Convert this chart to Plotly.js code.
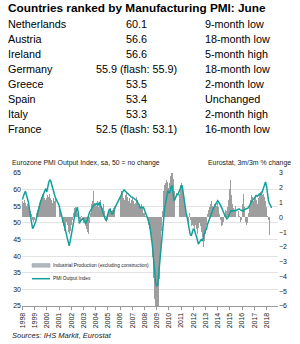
<!DOCTYPE html>
<html>
<head>
<meta charset="utf-8">
<script src="https://cdn.plot.ly/plotly-3.0.1.min.js"></script>
<style>
html,body{margin:0;padding:0;background:#fff;}
#chart{width:300px;height:344px;}
</style>
</head>
<body>
<div id="chart"></div>
<script>
// ---- Table data ----
const countries = ['Netherlands','Austria','Ireland','Germany','Greece','Spain','Italy','France'];
const pmiJune = ['60.1','56.6','56.6','55.9 (flash: 55.9)','53.5','53.4','53.3','52.5 (flash: 53.1)'];
const notes = ['9-month low','18-month low','5-month high','18-month low','2-month low','Unchanged','2-month high','16-month low'];

// ---- Chart data (monthly, starting Jan 1998) ----
const startYear = 1998;
// Eurozone PMI Output Index (left axis), Jan 1998 - Jun 2018
const pmiOutput = [
  57.0,58.2,58.8,59.5,58.5,57.5,56.2,54.0,51.5,49.5,48.3,48.8, // 1998
  49.5,50.3,51.5,53.0,54.2,55.0,56.5,57.3,58.0,58.8,59.5,60.3, // 1999
  59.3,61.0,62.2,63.0,62.5,61.3,60.0,59.2,58.0,57.2,56.5,55.8, // 2000
  55.3,54.0,52.6,51.3,50.5,49.5,48.2,47.5,46.0,44.0,43.1,44.5, // 2001
  46.5,48.5,50.5,51.7,53.0,53.8,54.7,53.0,49.8,50.5,51.0,51.3, // 2002
  51.2,50.8,49.8,50.2,51.0,52.3,53.2,53.7,54.3,54.7,55.3,55.5, // 2003
  55.6,55.8,55.2,56.0,56.2,55.0,54.5,53.2,52.5,51.5,50.7,51.5, // 2004
  53.0,53.8,54.2,53.5,52.7,52.8,53.8,54.5,55.2,55.8,56.5,57.2, // 2005
  57.7,58.3,58.8,59.5,59.9,59.6,59.0,58.7,58.5,58.3,58.0,57.8, // 2006
  57.7,57.5,57.4,57.2,56.8,56.3,55.7,55.0,54.5,54.8,54.6,54.7, // 2007
  54.0,53.2,52.5,51.5,50.5,49.6,47.5,45.5,42.6,39.0,35.0,32.0, // 2008
  31.0,31.5,34.5,38.5,42.0,45.5,48.6,51.5,54.7,56.5,58.0,59.7, // 2009
  59.0,59.2,60.5,61.3,59.5,56.7,57.0,57.8,58.7,58.5,59.5,60.5, // 2010
  61.0,61.3,59.0,56.7,54.5,53.0,51.7,50.0,48.0,46.5,46.1,47.0, // 2011
  48.1,48.0,47.2,46.0,45.0,43.6,44.0,44.5,45.1,44.5,46.0,47.0, // 2012
  47.8,48.1,49.5,50.5,51.2,52.0,53.0,53.7,54.5,55.0,55.8,56.3, // 2013
  56.7,56.2,55.8,55.2,54.5,53.5,52.7,52.3,51.8,51.2,51.5,52.3, // 2014
  53.0,53.7,53.5,53.7,53.6,53.8,53.7,53.9,54.0,54.2,54.0,53.8, // 2015
  53.7,53.5,53.9,54.0,54.2,54.3,54.5,55.0,55.8,56.3,56.7,57.0, // 2016
  57.3,57.8,58.2,58.0,58.3,58.7,58.5,58.7,59.5,60.5,61.5,62.3, // 2017
  61.0,58.5,56.7,55.7,55.3,54.5                                // 2018
];
// Eurostat industrial production (excl. construction), 3m/3m % change (right axis), Jan 1998 - Apr 2018
const industrialProduction = [
  1.1,1.0,1.2,1.0,0.8,0.9,0.7,0.5,0.4,0.2,-0.2,-0.3,      // 1998
  -0.2,0.0,0.3,0.5,0.8,1.0,1.2,1.4,1.6,1.5,1.3,1.2,       // 1999
  1.3,1.5,1.4,1.6,1.3,1.2,1.0,1.3,1.1,1.4,1.0,0.8,        // 2000
  0.6,0.3,-0.2,-0.4,-0.6,-0.9,-0.7,-0.3,-0.5,-1.0,-1.1,-0.9, // 2001
  -0.5,-0.2,0.3,0.6,0.7,0.5,0.3,0.2,-0.1,-0.3,0.1,-0.2,   // 2002
  -0.4,-0.3,-0.6,-0.8,-1.0,-1.1,-0.4,0.3,0.9,1.1,1.8,1.0, // 2003
  0.9,0.8,1.1,0.7,1.0,1.2,0.8,0.6,0.9,0.4,0.1,-0.3,       // 2004
  -0.2,0.3,0.5,0.6,0.4,0.5,0.6,0.8,1.1,1.4,1.7,1.2,       // 2005
  1.4,1.8,1.6,1.3,1.2,1.5,1.7,1.4,1.1,1.3,1.0,1.2,        // 2006
  1.3,1.1,0.9,1.0,1.4,1.2,0.8,0.9,0.7,0.9,0.6,0.3,        // 2007
  0.3,0.1,0.2,-0.2,-0.5,-0.8,-1.1,-1.5,-2.7,-4.1,-5.5,-7.5, // 2008
  -9.0,-9.5,-8.0,-4.2,-2.5,-0.9,0.4,1.8,2.2,2.3,2.5,2.4,  // 2009
  2.0,2.3,2.8,3.1,3.0,2.6,1.8,1.6,2.0,1.9,1.6,2.2,        // 2010
  2.3,1.9,1.4,1.0,0.6,0.2,0.0,-0.3,0.3,-0.2,-0.6,-0.5,    // 2011
  -0.6,-0.9,-0.5,-0.8,-1.1,-0.7,-0.4,-0.6,-1.0,-1.3,-2.0,-1.6, // 2012
  -1.1,-0.5,0.2,0.5,0.7,0.9,1.1,0.8,0.6,0.9,1.0,0.8,      // 2013
  1.0,0.7,0.2,-0.2,-0.6,-0.5,-0.3,0.2,0.5,0.4,0.7,1.2,    // 2014
  1.9,2.5,1.5,0.9,0.6,0.5,0.8,0.6,0.4,0.1,-0.3,-0.2,      // 2015
  0.9,1.6,0.7,-0.3,-0.5,-0.4,0.3,0.8,1.2,1.5,1.4,1.1,     // 2016
  1.4,1.5,1.2,0.9,1.3,1.5,1.7,1.8,1.5,1.6,1.4,1.1,        // 2017
  0.7,0.1,-0.2,-1.2                                       // 2018
];
const yearTicks = ['1998','1999','2000','2001','2002','2003','2004','2005','2006','2007','2008','2009','2010','2011','2012','2013','2014','2015','2016','2017','2018'];
const seriesNames = ['Industrial Production (excluding construction)','PMI Output Index'];

function monthDates(n){
  const out=[];
  for(let i=0;i<n;i++){
    const y=startYear+Math.floor(i/12), m=(i%12)+1;
    out.push(y+'-'+(m<10?'0':'')+m+'-01');
  }
  return out;
}

const FONT = '"Liberation Sans", Arial, Helvetica, sans-serif';
const TXT = '#222';
const TEAL = '#13a09b';
const BARC = '#9e9e9e';

// plot area geometry (px)
const L=22, R=22, T=173, B=38, W=300-L-R, H=344-T-B;
const px = x => (x-L)/W;
const py = y => (344-B-y)/H;

const traces = [
  {
    type:'bar', name:seriesNames[0],
    x: monthDates(industrialProduction.length), y: industrialProduction,
    yaxis:'y', marker:{color:BARC, line:{width:0}},
    hoverinfo:'skip'
  },
  {
    type:'scatter', mode:'lines', name:seriesNames[1],
    x: monthDates(pmiOutput.length), y: pmiOutput,
    yaxis:'y2', line:{color:TEAL, width:1.5},
    hoverinfo:'skip'
  }
];

const annotations = [];
annotations.push({xref:'paper', yref:'paper', x:px(6), y:py(8), xanchor:'left', yanchor:'middle',
  text:'<b>Countries ranked by Manufacturing PMI: June</b>', showarrow:false,
  font:{family:FONT, size:11.8, color:'#000'}});
countries.forEach((c,i)=>{
  const yy = py(24.3+15*i);
  annotations.push({xref:'paper', yref:'paper', x:px(6), y:yy, xanchor:'left', yanchor:'middle', text:c, showarrow:false, font:{family:FONT, size:10.8, color:'#000'}});
  annotations.push({xref:'paper', yref:'paper', x:px(136), y:yy, xanchor:'center', yanchor:'middle', text:pmiJune[i], showarrow:false, font:{family:FONT, size:10.8, color:'#000'}});
  annotations.push({xref:'paper', yref:'paper', x:px(202.5), y:yy, xanchor:'left', yanchor:'middle', text:notes[i], showarrow:false, font:{family:FONT, size:10.8, color:'#000'}});
});
annotations.push({xref:'paper', yref:'paper', x:px(10), y:py(162.5), xanchor:'left', yanchor:'middle',
  text:'Eurozone PMI Output Index, sa, 50 = no change', showarrow:false, font:{family:FONT, size:6.9, color:TXT}});
annotations.push({xref:'paper', yref:'paper', x:px(293), y:py(162.5), xanchor:'right', yanchor:'middle',
  text:'Eurostat, 3m/3m % change', showarrow:false, font:{family:FONT, size:6.9, color:TXT}});
annotations.push({xref:'paper', yref:'paper', x:px(9.5), y:py(335), xanchor:'left', yanchor:'middle',
  text:'<i>Sources: IHS Markit, Eurostat</i>', showarrow:false, font:{family:FONT, size:7.5, color:TXT}});
// legend labels
annotations.push({xref:'paper', yref:'paper', x:px(50.5), y:py(265.3), xanchor:'left', yanchor:'middle',
  text:seriesNames[0], showarrow:false, font:{family:FONT, size:4.8, color:TXT}});
annotations.push({xref:'paper', yref:'paper', x:px(50.5), y:py(278.7), xanchor:'left', yanchor:'middle',
  text:seriesNames[1], showarrow:false, font:{family:FONT, size:4.8, color:TXT}});

// legend swatches
const shapes = [
  {type:'rect', xref:'paper', yref:'paper', x0:px(32), x1:px(50), y0:py(267.2), y1:py(263.6),
   fillcolor:'#b3b8bf', line:{color:'#98a4b2', width:0.6}},
  {type:'line', xref:'paper', yref:'paper', x0:px(32), x1:px(50), y0:py(278.7), y1:py(278.7),
   line:{color:TEAL, width:1.5}}
];

const layout = {
  width:300, height:344,
  margin:{l:L, r:R, t:T, b:B, pad:0},
  paper_bgcolor:'#fff', plot_bgcolor:'#fff',
  font:{family:FONT, size:7, color:TXT},
  bargap:0,
  showlegend:false,
  xaxis:{type:'date', range:['1997-12-20','2018-12-10'],
    tickvals: yearTicks.map(y=>y+'-01-01'), ticktext: yearTicks,
    tickangle:-90, ticks:'outside', ticklen:3, tickcolor:'#999', tickwidth:1,
    showline:true, linecolor:'#999', linewidth:1, showgrid:false, zeroline:false,
    tickfont:{family:FONT, size:7, color:TXT}},
  yaxis:{side:'right', range:[-6,3], dtick:1, showgrid:false, zeroline:false,
    ticks:'', showline:false, tickfont:{family:FONT, size:7, color:TXT}},
  yaxis2:{side:'left', overlaying:'y', range:[25,65], dtick:5, showgrid:true,
    gridcolor:'#e3e3e3', gridwidth:1.2, zeroline:false, ticks:'', showline:false,
    tickfont:{family:FONT, size:7, color:TXT}},
  annotations: annotations,
  shapes: shapes
};

Plotly.newPlot('chart', traces, layout, {staticPlot:true, displayModeBar:false});
</script>
</body>
</html>
